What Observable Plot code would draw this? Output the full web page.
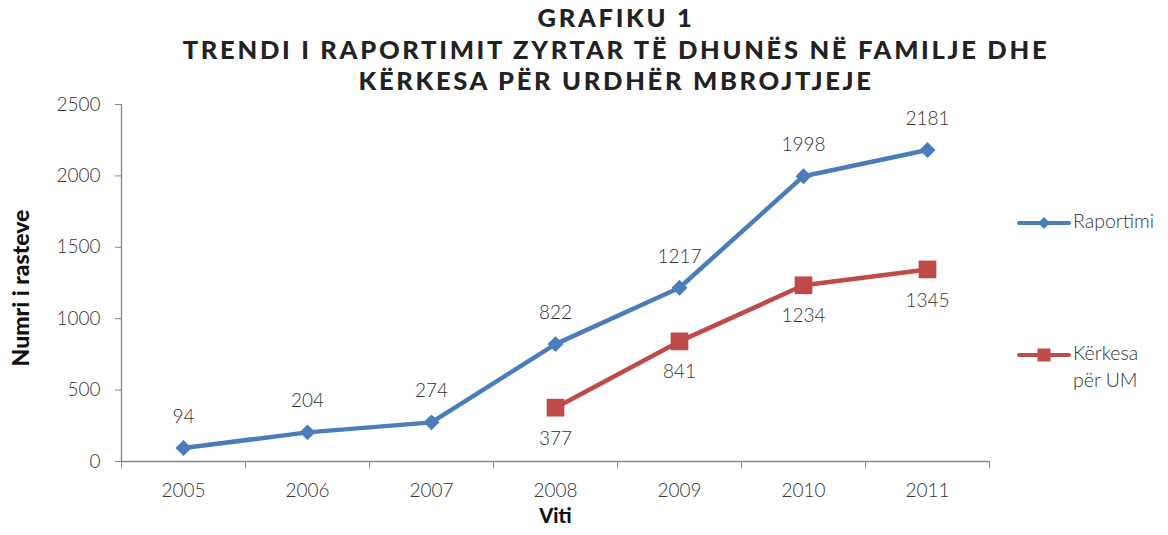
<!DOCTYPE html>
<html><head><meta charset="utf-8">
<script src="https://cdn.jsdelivr.net/npm/d3@7"></script>
<script src="https://cdn.jsdelivr.net/npm/@observablehq/plot@0.6"></script>
<style>
body{margin:0;background:#fff;font-family:Lato,"Open Sans",sans-serif;}
#wrap{position:relative;width:1168px;height:535px;}
#title{position:absolute;left:0;top:2px;width:1232px;text-align:center;font-weight:900;font-size:25.5px;line-height:31.5px;letter-spacing:2.7px;color:#222;}
.leg{position:absolute;font-size:19.5px;color:#333;line-height:27px;font-weight:300;}
</style></head>
<body>
<div id="wrap">
<div id="chart"></div>
<div id="title">GRAFIKU 1<br>TRENDI I RAPORTIMIT ZYRTAR TË DHUNËS NË FAMILJE DHE<br>KËRKESA PËR URDHËR MBROJTJEJE</div>
<div class="leg" style="left:1017px;top:207px;"><svg width="54" height="16" style="vertical-align:middle"><line x1="2" x2="52" y1="8" y2="8" stroke="#4a7ebb" stroke-width="4" stroke-linecap="round"/><path d="M27,2 L33,8 L27,14 L21,8Z" fill="#4a7ebb"/></svg><span style="position:absolute;left:56px;top:0;">Raportimi</span></div>
<div class="leg" style="left:1017px;top:339px;"><svg width="54" height="16" style="vertical-align:middle"><line x1="2" x2="52" y1="8" y2="8" stroke="#be4b48" stroke-width="4" stroke-linecap="round"/><rect x="20.5" y="1.5" width="13" height="13" fill="#be4b48"/></svg><span style="position:absolute;left:56px;top:0;white-space:nowrap;">Kërkesa<br>për UM</span></div>
</div>
<script>
const years = [2005, 2006, 2007, 2008, 2009, 2010, 2011];
const raportimi = [94, 204, 274, 822, 1217, 1998, 2181];
const kerkesaYears = [2008, 2009, 2010, 2011];
const kerkesa = [377, 841, 1234, 1345];
const yTicks = [0, 500, 1000, 1500, 2000, 2500];

const blue = "#4a7ebb", red = "#be4b48", axisCol = "#868686", txt = "#333";
const rap = years.map((y, i) => ({year: y, value: raportimi[i]}));
const ker = kerkesaYears.map((y, i) => ({year: y, value: kerkesa[i]}));
const bounds = years.map(y => y - 0.5).concat([years[years.length - 1] + 0.5]);

const plot = Plot.plot({
  width: 1168, height: 535,
  marginLeft: 121, marginRight: 179, marginTop: 104, marginBottom: 74,
  style: {fontFamily: "Lato, 'Open Sans', sans-serif", background: "transparent", overflow: "visible"},
  x: {domain: [bounds[0], bounds[bounds.length - 1]]},
  y: {domain: [0, 2500]},
  marks: [
    Plot.ruleX([bounds[0]], {stroke: axisCol, strokeWidth: 1.3}),
    Plot.ruleY([0], {stroke: axisCol, strokeWidth: 1.3}),
    Plot.axisY({ticks: yTicks, tickSize: 6, tickPadding: 15, stroke: axisCol, tickFormat: d => String(d), fontSize: 19, fontWeight: 300, fill: txt, label: null}),
    Plot.axisX({ticks: bounds, tickSize: 7, stroke: axisCol, tickFormat: () => "", label: null}),
    Plot.axisX({ticks: years, tickSize: 0, tickPadding: 22, tickFormat: d => String(d), fontSize: 19, fontWeight: 300, fill: txt, label: null}),
    Plot.text(["Numri i rasteve"], {frameAnchor: "left", textAnchor: "middle", dx: -100, dy: 5, rotate: -90, fontSize: 23, fontWeight: 900, fill: "#111", style: "letter-spacing:1.4px"}),
    Plot.text(["Viti"], {frameAnchor: "bottom", textAnchor: "middle", dy: 61, fontSize: 20, fontWeight: 900, fill: "#111"}),
    Plot.line(rap, {x: "year", y: "value", stroke: blue, strokeWidth: 4.5}),
    Plot.dot(rap, {x: "year", y: "value", symbol: "diamond2", r: 7.2, fill: blue}),
    Plot.line(ker, {x: "year", y: "value", stroke: red, strokeWidth: 4.5}),
    Plot.dot(ker, {x: "year", y: "value", symbol: "square", r: 10, fill: red}),
    Plot.text(rap, {x: "year", y: "value", text: d => String(d.value), dy: -31, fontSize: 19, fontWeight: 300, fill: txt}),
    Plot.text(ker, {x: "year", y: "value", text: d => String(d.value), dy: 31, fontSize: 19, fontWeight: 300, fill: txt})
  ]
});
document.getElementById("chart").appendChild(plot);
</script>
</body></html>
